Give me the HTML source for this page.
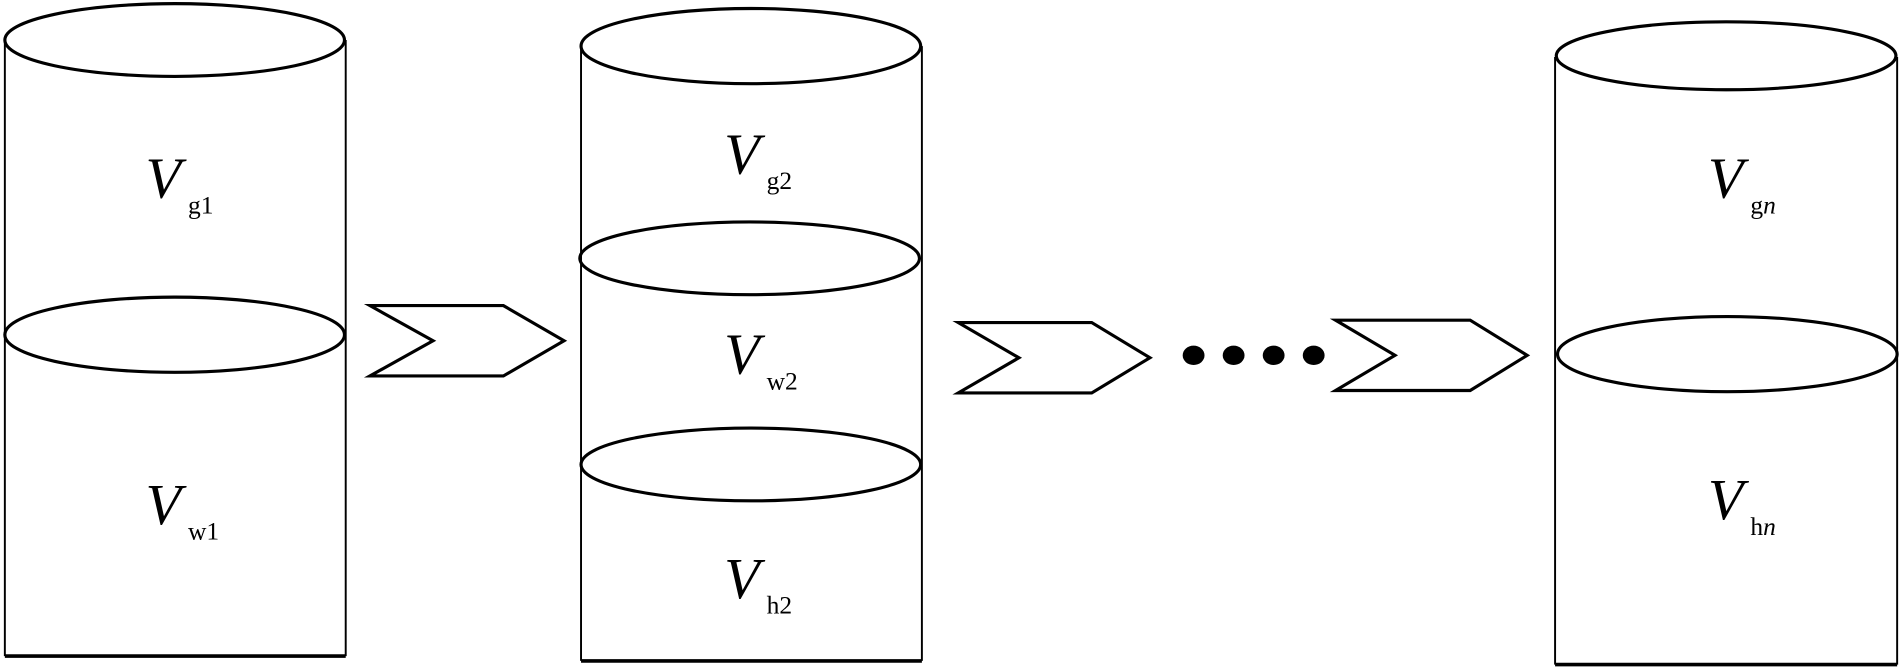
<!DOCTYPE html>
<html><head><style>html,body{margin:0;padding:0;background:#fff}svg{display:block}</style></head><body>
<svg width="1902" height="667" viewBox="0 0 1568 550" preserveAspectRatio="none" xmlns="http://www.w3.org/2000/svg">
<g fill="none" stroke="#000">
<!-- cylinder 1 -->
<line x1="4" y1="33" x2="4" y2="541" stroke-width="1.6"/>
<line x1="285" y1="33" x2="285" y2="541" stroke-width="1.6"/>
<line x1="4" y1="541" x2="285" y2="541" stroke-width="3"/>
<ellipse cx="144" cy="33" rx="140" ry="30" stroke-width="2.6"/>
<ellipse cx="144" cy="276" rx="140" ry="31" stroke-width="2.6"/>
<!-- cylinder 2 -->
<line x1="479" y1="38" x2="479" y2="545" stroke-width="1.6"/>
<line x1="760" y1="38" x2="760" y2="545" stroke-width="1.6"/>
<line x1="479" y1="545" x2="760" y2="545" stroke-width="3"/>
<ellipse cx="619" cy="38" rx="140" ry="31" stroke-width="2.6"/>
<ellipse cx="618" cy="213" rx="140" ry="30" stroke-width="2.6"/>
<ellipse cx="619" cy="383" rx="140" ry="30" stroke-width="2.6"/>
<!-- cylinder 3 -->
<line x1="1282" y1="47" x2="1282" y2="548" stroke-width="1.6"/>
<line x1="1564" y1="47" x2="1564" y2="548" stroke-width="1.6"/>
<line x1="1282" y1="548" x2="1564" y2="548" stroke-width="3"/>
<ellipse cx="1423" cy="46" rx="140" ry="28" stroke-width="2.6"/>
<ellipse cx="1424" cy="292" rx="140" ry="31" stroke-width="2.6"/>
<!-- chevrons -->
<polygon points="305,252 415,252 465,281 415,310 305,310 357,281" stroke-width="2.6"/>
<polygon points="790,266 900,266 948,295 900,324 790,324 840,295" stroke-width="2.6"/>
<polygon points="1101,264 1212,264 1259,293 1212,322 1101,322 1150,293" stroke-width="2.6"/>
</g>
<g fill="#000">
<ellipse cx="984" cy="293" rx="9" ry="8"/>
<ellipse cx="1017" cy="293" rx="9" ry="8"/>
<ellipse cx="1050" cy="293" rx="9" ry="8"/>
<ellipse cx="1083" cy="293" rx="9" ry="8"/>
</g>
<g font-family="Liberation Serif, serif" fill="#000">
<text x="120" y="163" font-size="48" font-style="italic">V</text><text x="155" y="176" font-size="21">g1</text>
<text x="120" y="432" font-size="48" font-style="italic">V</text><text x="155" y="445" font-size="21">w1</text>
<text x="597" y="143" font-size="48" font-style="italic">V</text><text x="632" y="156" font-size="21">g2</text>
<text x="597" y="308" font-size="48" font-style="italic">V</text><text x="632" y="321" font-size="21">w2</text>
<text x="597" y="493" font-size="48" font-style="italic">V</text><text x="632" y="506" font-size="21">h2</text>
<text x="1408" y="163" font-size="48" font-style="italic">V</text><text x="1443" y="176" font-size="21">g<tspan font-style="italic">n</tspan></text>
<text x="1408" y="428" font-size="48" font-style="italic">V</text><text x="1443" y="441" font-size="21">h<tspan font-style="italic">n</tspan></text>
</g>
</svg>
</body></html>
